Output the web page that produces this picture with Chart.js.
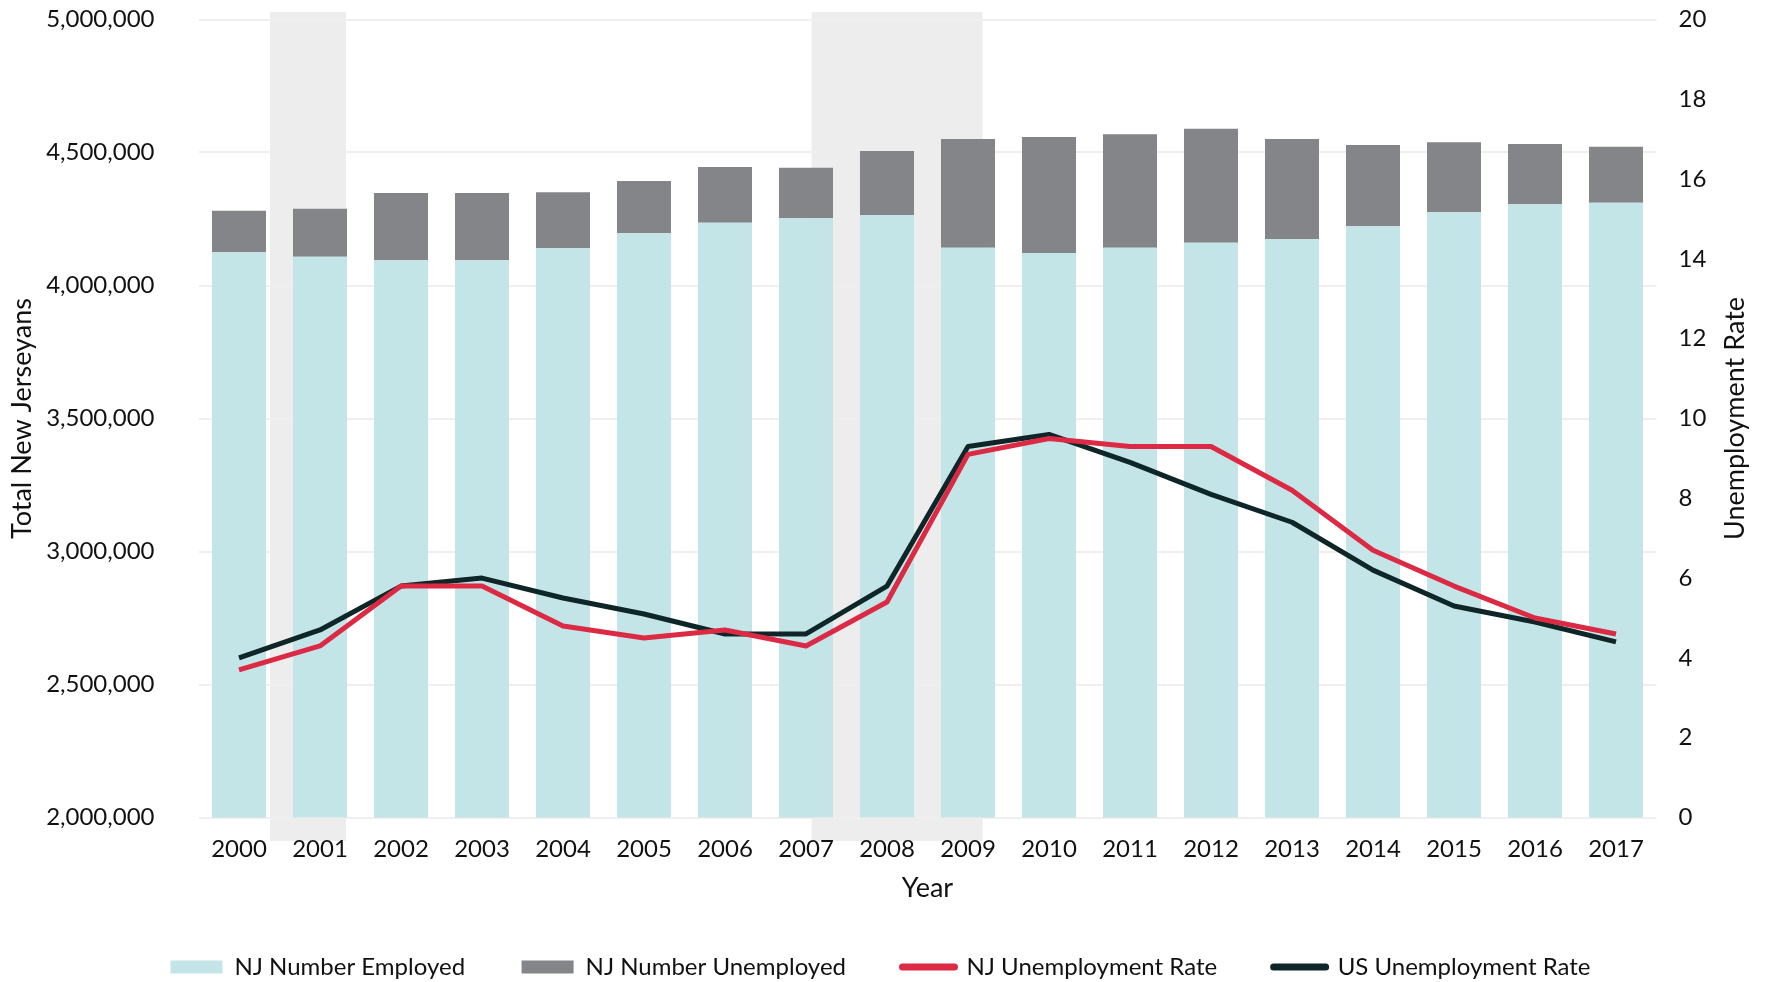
<!DOCTYPE html>
<html>
<head>
<meta charset="utf-8">
<script src="https://cdn.jsdelivr.net/npm/chart.js@4.4.1/dist/chart.umd.min.js"></script>
<style>
  html, body { margin: 0; padding: 0; background: #fff; }
  #wrap { width: 1767px; height: 982px; }
</style>
</head>
<body>
<div id="wrap"><canvas id="myChart"></canvas></div>
<script>
var years = ["2000", "2001", "2002", "2003", "2004", "2005", "2006", "2007", "2008",
  "2009", "2010", "2011", "2012", "2013", "2014", "2015", "2016", "2017"];

var njEmployed = [4124800, 4108300, 4094700, 4094700, 4141000, 4196300, 4236200, 4252600, 4265000,
  4142100, 4122200, 4142100, 4160900, 4173700, 4222600, 4275200, 4305300, 4311300];

var njUnemployed = [156400, 180400, 253100, 253100, 209400, 196600, 209300, 190300, 240600,
  408700, 436100, 426300, 428600, 377100, 305600, 263100, 226600, 210500];

var njRate = [3.7, 4.3, 5.8, 5.8, 4.8, 4.5, 4.7, 4.3, 5.4, 9.1, 9.5, 9.3, 9.3, 8.2, 6.7, 5.8, 5.0, 4.6];
var usRate = [4.0, 4.7, 5.8, 6.0, 5.5, 5.1, 4.6, 4.6, 5.8, 9.3, 9.6, 8.9, 8.1, 7.4, 6.2, 5.3, 4.9, 4.4];

// recession bands, in category index units
var recessions = [[0.383, 1.321], [7.07, 9.18]];

var leftTicks = { min: 2000000, max: 5000000, step: 500000 };
var rightTicks = { min: 0, max: 20, step: 2 };
var rightAxisTitle = "Unemployment Rate";

var FONT = "Lato";
var TXT = "#111111";
var TITLE_SIZE = 27;

// grey bands behind everything, a little taller than the plot
var recessionBands = {
  id: "recessionBands",
  beforeDraw: function (chart) {
    var ctx = chart.ctx, x = chart.scales.x, area = chart.chartArea;
    ctx.save();
    ctx.fillStyle = "#ededed";
    recessions.forEach(function (r) {
      var x0 = x.getPixelForValue(r[0]);
      var x1 = x.getPixelForValue(r[1]);
      ctx.fillRect(x0, area.top - 7.5, x1 - x0, area.bottom - area.top + 31);
    });
    ctx.restore();
  }
};

// right axis title reads bottom-to-top like the left one
var rightTitle = {
  id: "rightTitle",
  afterDraw: function (chart) {
    var ctx = chart.ctx, s = chart.scales.y1;
    ctx.save();
    ctx.translate(s.right - 5.8 - TITLE_SIZE * 0.6, (s.top + s.bottom) / 2);
    ctx.rotate(-Math.PI / 2);
    ctx.textAlign = "center";
    ctx.textBaseline = "middle";
    ctx.fillStyle = TXT;
    ctx.font = TITLE_SIZE + "px " + FONT;
    ctx.fillText(rightAxisTitle, 0, 0);
    ctx.restore();
  }
};

function fixVertical(width) {
  return function (scale) {
    scale.width = width;
    scale.paddingTop = 0;
    scale.paddingBottom = 0;
  };
}

new Chart("myChart", {
  type: "bar",
  data: {
    labels: years,
    datasets: [{
      label: "NJ Number Employed",
      data: njEmployed,
      backgroundColor: "#c4e5e7",
      yAxisID: "y",
      stack: "nj",
      order: 2
    }, {
      label: "NJ Number Unemployed",
      data: njUnemployed,
      backgroundColor: "#848589",
      yAxisID: "y",
      stack: "nj",
      order: 2
    }, {
      type: "line",
      label: "NJ Unemployment Rate",
      data: njRate,
      borderColor: "#dc2a45",
      backgroundColor: "#dc2a45",
      borderWidth: 5,
      pointRadius: 0,
      tension: 0,
      borderJoinStyle: "round",
      yAxisID: "y1",
      order: 0
    }, {
      type: "line",
      label: "US Unemployment Rate",
      data: usRate,
      borderColor: "#0f2628",
      backgroundColor: "#0f2628",
      borderWidth: 5,
      pointRadius: 0,
      tension: 0,
      borderJoinStyle: "round",
      yAxisID: "y1",
      order: 1
    }]
  },
  options: {
    responsive: true,
    maintainAspectRatio: false,
    animation: false,
    datasets: {
      bar: { barPercentage: 0.667, categoryPercentage: 1.0 }
    },
    layout: {
      padding: { top: 19.5, left: 4, right: 10, bottom: 1 }
    },
    plugins: {
      tooltip: { enabled: false },
      legend: {
        position: "bottom",
        maxHeight: 82.5,
        labels: {
          usePointStyle: true,
          pointStyleWidth: 52,
          boxHeight: 13,
          padding: 56.5,
          color: TXT,
          font: { family: FONT, size: 24 },
          generateLabels: function (chart) {
            return chart.data.datasets.map(function (ds, i) {
              var isLine = ds.type === "line";
              return {
                text: ds.label,
                datasetIndex: i,
                fillStyle: ds.backgroundColor,
                strokeStyle: isLine ? ds.borderColor : "rgba(0,0,0,0)",
                lineWidth: isLine ? 7 : 0,
                lineCap: "round",
                pointStyle: isLine ? "line" : "rect",
                fontColor: TXT,
                hidden: false
              };
            });
          }
        }
      }
    },
    scales: {
      x: {
        stacked: true,
        grid: { display: false, drawTicks: false },
        border: { display: false },
        ticks: { color: TXT, padding: 17, font: { family: FONT, size: 24 }, maxRotation: 0 },
        title: {
          display: true,
          text: "Year",
          color: TXT,
          font: { family: FONT, size: TITLE_SIZE },
          padding: { top: 4, bottom: -5.7 }
        },
        afterFit: function (scale) { scale.height = 81; }
      },
      y: {
        position: "left",
        stacked: true,
        min: leftTicks.min,
        max: leftTicks.max,
        grid: { color: "#efefef", lineWidth: 2, drawTicks: false },
        border: { display: false },
        ticks: {
          stepSize: leftTicks.step,
          padding: 44,
          color: TXT,
          font: { family: FONT, size: 24 },
          callback: function (v) { return v.toLocaleString("en-US"); }
        },
        title: {
          display: true,
          text: "Total New Jerseyans",
          color: TXT,
          font: { family: FONT, size: TITLE_SIZE },
          padding: { top: 1.8, bottom: 4 }
        },
        afterFit: fixVertical(194.5)
      },
      y1: {
        position: "right",
        min: rightTicks.min,
        max: rightTicks.max,
        grid: { display: false, drawTicks: false },
        border: { display: false },
        ticks: {
          stepSize: rightTicks.step,
          padding: 22,
          color: TXT,
          font: { family: FONT, size: 24 }
        },
        afterFit: fixVertical(100.5)
      }
    }
  },
  plugins: [recessionBands, rightTitle]
});
</script>
</body>
</html>
